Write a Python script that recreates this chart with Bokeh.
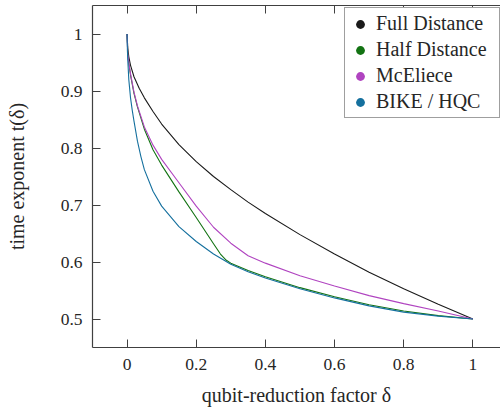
from bokeh.plotting import figure
from bokeh.models import Range1d, LinearAxis, FixedTicker, Legend, LegendItem
from bokeh.embed import file_html
from bokeh.resources import INLINE

# ---- data ----
delta_full = [0, 0.002, 0.005, 0.01, 0.02, 0.035, 0.05, 0.075, 0.1, 0.15, 0.2, 0.25, 0.3, 0.35, 0.4, 0.5, 0.6, 0.7, 0.8, 0.9, 1.0]
t_full = [1, 0.975, 0.96, 0.945, 0.925, 0.905, 0.888, 0.864, 0.842, 0.806, 0.776, 0.750, 0.727, 0.705, 0.685, 0.648, 0.614, 0.582, 0.553, 0.526, 0.5]

delta_half = [0, 0.002, 0.005, 0.01, 0.02, 0.03, 0.05, 0.075, 0.1, 0.15, 0.2, 0.25, 0.27, 0.285, 0.3, 0.35, 0.4, 0.5, 0.6, 0.7, 0.8, 0.9, 1.0]
t_half = [1, 0.965, 0.948, 0.928, 0.896, 0.872, 0.833, 0.797, 0.770, 0.723, 0.678, 0.632, 0.614, 0.604, 0.598, 0.585, 0.574, 0.555, 0.539, 0.525, 0.514, 0.506, 0.5]

delta_mce = [0, 0.002, 0.005, 0.01, 0.02, 0.03, 0.05, 0.075, 0.1, 0.15, 0.2, 0.25, 0.3, 0.35, 0.4, 0.5, 0.6, 0.7, 0.8, 0.9, 1.0]
t_mce = [1, 0.965, 0.95, 0.93, 0.898, 0.874, 0.837, 0.805, 0.780, 0.739, 0.698, 0.661, 0.633, 0.611, 0.598, 0.576, 0.558, 0.541, 0.527, 0.514, 0.5]

delta_bike = [0, 0.001, 0.002, 0.005, 0.01, 0.015, 0.02, 0.03, 0.04, 0.05, 0.075, 0.1, 0.15, 0.2, 0.25, 0.3, 0.35, 0.4, 0.5, 0.6, 0.7, 0.8, 0.9, 1.0]
t_bike = [1, 0.97, 0.955, 0.92, 0.888, 0.866, 0.847, 0.812, 0.785, 0.762, 0.724, 0.698, 0.662, 0.636, 0.614, 0.596, 0.583, 0.572, 0.553, 0.537, 0.523, 0.512, 0.505, 0.5]

series_names = ["Full Distance", "Half Distance", "McEliece", "BIKE / HQC"]
series_colors = ["#1a1a1a", "#137313", "#b044c0", "#15709e"]

x_ticks = [0, 0.2, 0.4, 0.6, 0.8, 1.0]
x_tick_labels = ["0", "0.2", "0.4", "0.6", "0.8", "1"]
y_ticks = [0.5, 0.6, 0.7, 0.8, 0.9, 1.0]
y_tick_labels = ["0.5", "0.6", "0.7", "0.8", "0.9", "1"]

FONT = "Liberation Serif"
AXIS_COL = "#404040"
TEXT_COL = "#262626"

p = figure(width=500, height=408, output_backend="svg", toolbar_location=None,
           x_range=Range1d(-0.1, 1.08), y_range=Range1d(0.45, 1.05),
           min_border_left=92, min_border_right=0, min_border_top=5, min_border_bottom=58,
           x_axis_label="qubit-reduction factor δ", y_axis_label="time exponent t(δ)")
p.outline_line_color = None
p.grid.visible = False
p.background_fill_color = "white"
p.border_fill_color = "white"

xs = [delta_full, delta_half, delta_mce, delta_bike]
ys = [t_full, t_half, t_mce, t_bike]
items = []
for name, col, dx, ty in zip(series_names, series_colors, xs, ys):
    p.line(dx, ty, line_color=col, line_width=1.1)
    dot = p.scatter(dx[:1], ty[:1], size=0, fill_color=col, line_color=None)
    items.append(LegendItem(label=name, renderers=[dot]))

def style_axis(ax, ticks, labels):
    ax.ticker = FixedTicker(ticks=ticks)
    ax.major_label_overrides = dict(zip(ticks, labels))
    ax.major_tick_in = 8
    ax.major_tick_out = 0
    ax.minor_tick_line_color = None
    ax.axis_line_color = AXIS_COL
    ax.axis_line_width = 1.2
    ax.major_tick_line_color = AXIS_COL
    ax.major_tick_line_width = 1
    ax.major_label_text_font = FONT
    ax.major_label_text_font_size = "17.5px"
    ax.major_label_text_font_style = "normal"
    ax.major_label_text_color = TEXT_COL
    ax.axis_label_text_font = FONT
    ax.axis_label_text_font_size = "20px"
    ax.axis_label_text_font_style = "normal"
    ax.axis_label_text_color = TEXT_COL

style_axis(p.xaxis[0], x_ticks, x_tick_labels)
style_axis(p.yaxis[0], y_ticks, y_tick_labels)
p.xaxis[0].major_label_standoff = 11
p.xaxis[0].axis_label_standoff = 11
p.yaxis[0].major_label_standoff = 10
p.yaxis[0].axis_label_standoff = 30

top = LinearAxis(ticker=FixedTicker(ticks=x_ticks),
                 major_label_overrides={t: "" for t in x_ticks},
                 major_label_text_font_size="1px",
                 major_tick_in=8, major_tick_out=0, major_label_standoff=0,
                 minor_tick_line_color=None, axis_line_color=AXIS_COL, axis_line_width=1.2,
                 major_tick_line_color=AXIS_COL)
p.add_layout(top, "above")

legend = Legend(items=items, location=(252, 229))
legend.padding = 4
legend.spacing = 3
legend.glyph_width = 22
legend.glyph_height = 22
legend.label_standoff = 5
legend.label_width = 119
legend.label_height = 20
legend.margin = 0
legend.border_line_color = AXIS_COL
legend.border_line_width = 1
legend.background_fill_color = "white"
legend.background_fill_alpha = 1
legend.label_text_font = FONT
legend.label_text_font_size = "20px"
legend.label_text_font_style = "normal"
legend.label_text_color = TEXT_COL
p.add_layout(legend, "center")

open("out.html", "w").write(file_html(p, INLINE))
